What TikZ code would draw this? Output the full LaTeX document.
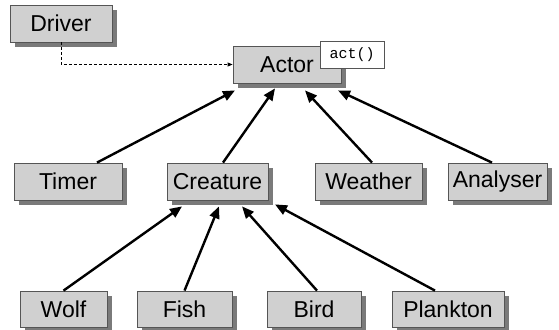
\documentclass[tikz,border=0pt]{standalone}
\usepackage{fontspec}
\setmainfont{Liberation Sans}
\setmonofont{Liberation Mono}
\usetikzlibrary{calc}
\usetikzlibrary{arrows.meta}
\usetikzlibrary{shadows}
\usetikzlibrary{positioning}
\definecolor{boxgray}{HTML}{D0D0D0}
\definecolor{edgegray}{HTML}{555555}
\definecolor{shadegray}{HTML}{7A7A7A}
\tikzset{classbox/.style={draw=edgegray, line width=0.8pt, rectangle, text centered, fill=boxgray,
  minimum height=37pt, inner sep=0pt, font=\fontsize{23}{26}\selectfont,
  drop shadow={shadow xshift=5pt, shadow yshift=-5pt, fill=shadegray, opacity=1}}}
\tikzset{methodbox/.style={draw=edgegray, line width=0.6pt, rectangle, fill=white,
  minimum width=64pt, minimum height=27pt, inner sep=0pt, font=\ttfamily\fontsize{15}{17}\selectfont}}
\tikzset{inherit/.style={draw, line width=2.4pt, -{Triangle[length=12pt,width=10pt]}}}
\tikzset{calls/.style={draw, line width=0.8pt, dash pattern=on 3pt off 2pt, -{Triangle[length=5pt,width=4pt]}}}

\begin{document}
\begin{tikzpicture}[x=1pt,y=-1pt]
\useasboundingbox[fill=white] (0,0) rectangle (559,329);
% top
\node[classbox,minimum width=102pt] (driver) at (61,23.5) {Driver};
\node[classbox,minimum width=108pt] (actor) at (287,64.5) {Actor};
\node[methodbox] (act) at (352,54.5) {act()};
% middle row
\node[classbox,minimum width=108pt] (timer) at (68,181.5) {Timer};
\node[classbox,minimum width=101pt] (creature) at (217.5,181.5) {Creature};
\node[classbox,minimum width=107pt] (weather) at (368.5,181.5) {Weather};
\node[classbox,minimum width=99pt] (analyser) at (497.5,181.5) {Analyser};
% bottom row
\node[classbox,minimum width=87pt,minimum height=36pt] (wolf) at (63.5,309) {Wolf};
\node[classbox,minimum width=95pt,minimum height=36pt] (fish) at (184.5,309) {Fish};
\node[classbox,minimum width=94pt,minimum height=36pt] (bird) at (314,309) {Bird};
\node[classbox,minimum width=112pt,minimum height=36pt] (plankton) at (448,309) {Plankton};

\path[calls] (driver.south) |- (actor.west);

\path[inherit] ($(timer.north)+(29,0)$) -- ($(actor.south)+(-52,7)$);
\path[inherit] ($(creature.north)+(5.5,0)$) -- ($(actor.south)+(-12,5)$);
\path[inherit] ($(weather.north)+(3.5,0)$) -- ($(actor.south)+(18,7)$);
\path[inherit] ($(analyser.north)+(-5.5,0)$) -- ($(actor.south)+(51,7)$);

\path[inherit] (wolf.north) -- ($(creature.south)+(-35.5,6)$);
\path[inherit] (fish.north) -- ($(creature.south)+(1.5,6)$);
\path[inherit] ($(bird.north)+(3,0)$) -- ($(creature.south)+(24.5,6)$);
\path[inherit] ($(plankton.north)+(-13,0)$) -- ($(creature.south)+(57.5,4)$);
\end{tikzpicture}
\end{document}
